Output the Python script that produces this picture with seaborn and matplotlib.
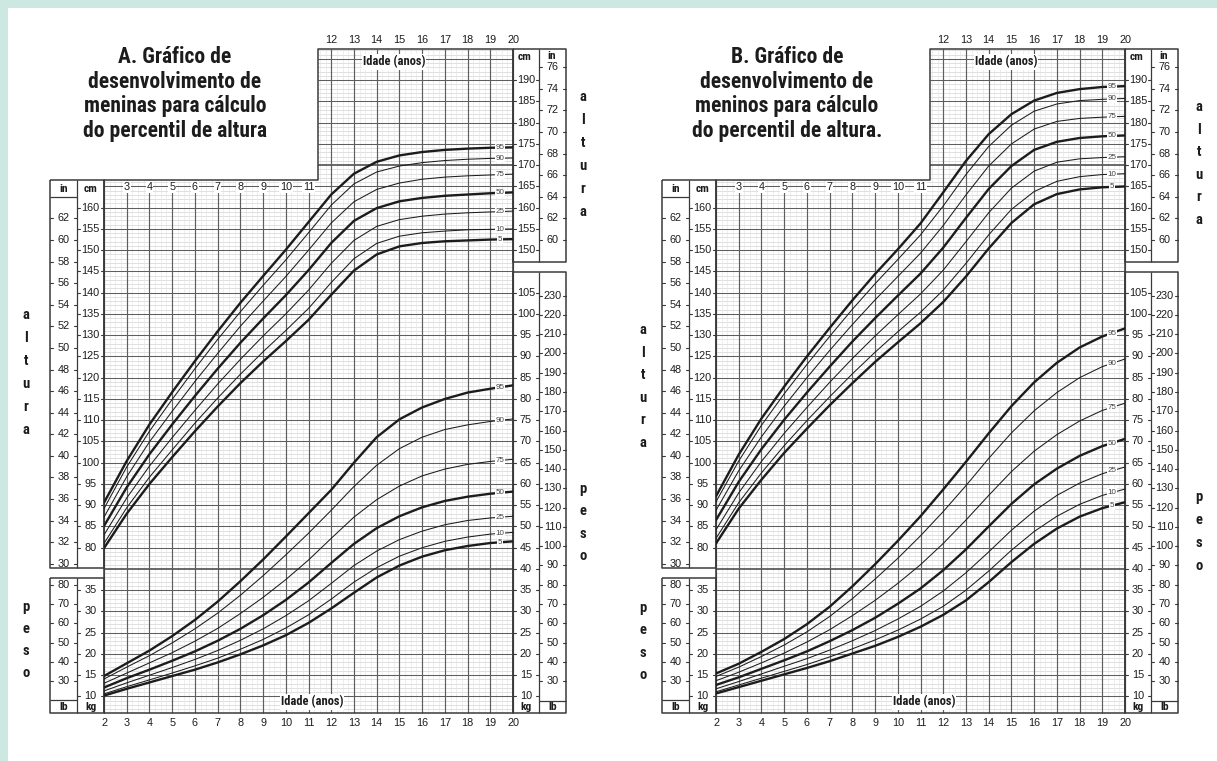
import numpy as np
import pandas as pd
import matplotlib
matplotlib.use("Agg")
import matplotlib.pyplot as plt
import seaborn as sns
from matplotlib import font_manager
from matplotlib.font_manager import FontProperties
from matplotlib.patches import Rectangle

# ------------------------------------------------------------------ data
ages = [2, 3, 4, 5, 6, 7, 8, 9, 10, 11, 12, 13, 14, 15, 16, 17, 18, 19, 20]
percentiles = [5, 10, 25, 50, 75, 90, 95]
thick_percentiles = [5, 50, 95]

# girls, stature (cm)
girls_stature_p5 = [79.9, 88.0, 95.0, 101.3, 107.4, 113.2, 118.7, 123.8, 128.6, 133.6, 139.5, 145.2, 149.0, 150.9, 151.7, 152.1, 152.3, 152.5, 152.6]
girls_stature_p10 = [81.0, 89.4, 96.6, 103.0, 109.3, 115.2, 120.8, 126.1, 131.1, 136.3, 142.4, 148.0, 151.6, 153.3, 154.1, 154.5, 154.8, 154.9, 155.0]
girls_stature_p25 = [83.0, 91.7, 99.2, 105.9, 112.3, 118.5, 124.3, 129.8, 135.0, 140.6, 146.9, 152.3, 155.6, 157.2, 158.0, 158.5, 158.8, 159.0, 159.2]
girls_stature_p50 = [85.1, 94.2, 102.0, 109.0, 115.7, 122.1, 128.2, 133.9, 139.4, 145.3, 151.7, 156.9, 159.9, 161.5, 162.3, 162.8, 163.1, 163.4, 163.6]
girls_stature_p75 = [87.2, 96.7, 104.9, 112.1, 119.1, 125.7, 132.1, 138.0, 143.8, 150.0, 156.4, 161.4, 164.3, 165.8, 166.7, 167.2, 167.5, 167.7, 167.9]
girls_stature_p90 = [89.2, 99.0, 107.4, 114.9, 122.1, 129.0, 135.5, 141.7, 147.7, 154.1, 160.6, 165.6, 168.4, 169.8, 170.6, 171.1, 171.4, 171.6, 171.7]
girls_stature_p95 = [90.6, 100.4, 109.0, 116.6, 123.9, 130.9, 137.6, 143.9, 150.1, 156.6, 163.1, 168.0, 170.8, 172.3, 173.1, 173.6, 173.9, 174.1, 174.2]

# girls, weight (kg)
girls_weight_p5 = [10.2, 11.8, 13.3, 14.8, 16.3, 18.0, 19.9, 22.0, 24.4, 27.3, 30.7, 34.4, 38.0, 40.8, 42.9, 44.4, 45.4, 46.1, 46.5]
girls_weight_p10 = [10.6, 12.3, 13.9, 15.5, 17.2, 19.0, 21.1, 23.4, 26.1, 29.2, 32.9, 36.9, 40.3, 43.0, 45.0, 46.5, 47.5, 48.2, 48.6]
girls_weight_p25 = [11.3, 13.2, 15.0, 16.8, 18.7, 20.8, 23.2, 25.9, 29.0, 32.5, 36.6, 40.8, 44.2, 46.9, 48.9, 50.4, 51.4, 52.0, 52.4]
girls_weight_p50 = [12.1, 14.3, 16.3, 18.4, 20.6, 23.1, 25.9, 29.1, 32.7, 36.8, 41.4, 45.9, 49.6, 52.4, 54.5, 56.0, 57.0, 57.7, 58.2]
girls_weight_p75 = [13.1, 15.5, 17.9, 20.3, 23.0, 26.0, 29.5, 33.3, 37.5, 42.1, 47.2, 52.2, 56.3, 59.5, 61.9, 63.5, 64.6, 65.3, 65.8]
girls_weight_p90 = [14.1, 16.9, 19.6, 22.6, 25.9, 29.6, 33.8, 38.4, 43.3, 48.4, 53.8, 59.4, 64.4, 68.3, 71.0, 72.8, 73.9, 74.7, 75.3]
girls_weight_p95 = [14.8, 17.8, 20.8, 24.2, 28.0, 32.3, 37.1, 42.2, 47.6, 53.1, 58.6, 65.0, 71.0, 75.2, 78.0, 80.0, 81.5, 82.4, 83.2]

# boys, stature (cm)
boys_stature_p5 = [81.0, 89.2, 96.0, 102.3, 108.0, 113.5, 118.7, 123.7, 128.3, 132.8, 137.8, 143.8, 150.4, 156.4, 160.8, 163.2, 164.3, 164.8, 165.0]
boys_stature_p10 = [82.2, 90.6, 97.6, 104.0, 109.9, 115.5, 120.9, 126.0, 130.8, 135.4, 140.6, 146.9, 153.6, 159.6, 163.8, 166.2, 167.3, 167.8, 168.0]
boys_stature_p25 = [84.2, 92.9, 100.3, 106.9, 113.0, 118.9, 124.5, 129.8, 134.8, 139.7, 145.3, 152.0, 158.8, 164.6, 168.6, 170.7, 171.5, 171.8, 172.0]
boys_stature_p50 = [86.5, 95.5, 103.2, 110.1, 116.5, 122.6, 128.5, 134.0, 139.3, 144.5, 150.6, 157.6, 164.4, 169.8, 173.6, 175.5, 176.4, 176.8, 177.0]
boys_stature_p75 = [88.8, 98.1, 106.1, 113.3, 120.0, 126.4, 132.5, 138.3, 143.8, 149.3, 155.8, 163.0, 169.8, 175.0, 178.5, 180.3, 181.0, 181.3, 181.5]
boys_stature_p90 = [90.8, 100.4, 108.8, 116.2, 123.1, 129.7, 136.1, 142.1, 147.8, 153.6, 160.4, 167.8, 174.4, 179.4, 182.7, 184.4, 185.2, 185.5, 185.7]
boys_stature_p95 = [92.1, 101.9, 110.4, 117.9, 125.0, 131.7, 138.2, 144.4, 150.2, 156.3, 163.6, 171.0, 177.3, 182.0, 185.2, 187.0, 187.9, 188.4, 188.6]

# boys, weight (kg)
boys_weight_p5 = [10.7, 12.2, 13.7, 15.2, 16.7, 18.3, 20.1, 21.9, 24.0, 26.4, 29.2, 32.6, 36.9, 41.6, 45.9, 49.5, 52.3, 54.3, 55.7]
boys_weight_p10 = [11.1, 12.7, 14.3, 15.9, 17.5, 19.3, 21.2, 23.3, 25.6, 28.2, 31.2, 35.0, 39.5, 44.4, 48.8, 52.4, 55.2, 57.3, 58.8]
boys_weight_p25 = [11.8, 13.5, 15.3, 17.1, 18.9, 20.9, 23.1, 25.5, 28.2, 31.2, 34.8, 39.1, 44.0, 49.1, 53.6, 57.3, 60.2, 62.4, 64.0]
boys_weight_p50 = [12.7, 14.5, 16.5, 18.5, 20.6, 23.0, 25.6, 28.5, 31.8, 35.4, 39.7, 44.6, 50.0, 55.3, 59.9, 63.6, 66.6, 68.9, 70.6]
boys_weight_p75 = [13.7, 15.7, 17.9, 20.2, 22.8, 25.7, 29.0, 32.6, 36.6, 41.0, 46.0, 51.5, 57.3, 62.9, 67.7, 71.6, 74.8, 77.3, 79.0]
boys_weight_p90 = [14.7, 16.9, 19.4, 22.1, 25.2, 28.8, 33.0, 37.6, 42.5, 47.8, 53.5, 59.6, 66.0, 72.0, 77.2, 81.5, 85.0, 87.6, 89.4]
boys_weight_p95 = [15.4, 17.7, 20.5, 23.5, 27.0, 31.1, 35.9, 41.1, 46.6, 52.4, 58.7, 65.2, 71.9, 78.3, 83.9, 88.5, 92.1, 94.7, 96.6]

girls_title = ["A. Gráfico de", "desenvolvimento de", "meninas para cálculo", "do percentil de altura"]
boys_title = ["B. Gráfico de", "desenvolvimento de", "meninos para cálculo", "do percentil de altura."]
age_axis_label = "Idade (anos)"
stature_word = "altura"
weight_word = "peso"

left_in_ticks = list(range(30, 63, 2))
left_cm_ticks = list(range(80, 161, 5))
right_cm_ticks = list(range(150, 191, 5))
right_in_ticks = list(range(60, 77, 2))
left_kg_ticks = list(range(10, 36, 5))
left_lb_ticks = list(range(30, 81, 10))
right_kg_ticks = list(range(10, 106, 5))
right_lb_ticks = list(range(30, 231, 10))


def series_frame(prefix):
    rows = []
    for p in percentiles:
        vals = globals()[f"{prefix}_p{p}"]
        for a, v in zip(ages, vals):
            rows.append({"idade": a, "valor": v, "percentil": p})
    return pd.DataFrame(rows)


# ------------------------------------------------------------------ style
sns.set_style("white")


def first_font(*names):
    for n in names:
        try:
            font_manager.findfont(FontProperties(family=n), fallback_to_default=False)
            return n
        except Exception:
            continue
    return "DejaVu Sans"


NARROW = first_font("Liberation Sans Narrow", "Roboto Condensed", "DejaVu Sans")
PLAIN = first_font("Liberation Sans", "Arimo", "DejaVu Sans")
plt.rcParams["font.family"] = [NARROW, "DejaVu Sans"]
NUM = [PLAIN, "DejaVu Sans"]

INK = "#1c1c1c"
FRAME = "#3a3a3a"
MAJOR = "#5e5e5e"
MINOR = "#cfcfcf"
QUARTER = "#e4e4e4"
TICK_FS = 7.8
AGE_FS = 7.8
UNIT_FS = 8.2

# ------------------------------------------------------------------ geometry (pixels)
W, H = 1217, 761
PX_YEAR = 409 / 18.0      # horizontal pixels per year
PX_UNIT = 4.25            # vertical pixels per cm (and per kg)
X_AGE2 = 104.0            # left grid edge of the first panel
Y_TOP, Y_BOT = 49.3, 713.0
KG_SHIFT = 35.0           # kg scale sits 35 units below the cm scale


def age_of(px):
    return 2 + (px - X_AGE2) / PX_YEAR


def cm_of(py):
    return 160 - (py - 207.7) / PX_UNIT


CM_LO, CM_HI = cm_of(Y_BOT), cm_of(Y_TOP)
STEP_AGE = age_of(318)
STEP_CM = cm_of(180)

fig = plt.figure(figsize=(W / 100, H / 100), dpi=100, facecolor="#cde7e1")
fig.add_artist(Rectangle((8 / W, 0), 1 - 8 / W, (H - 8) / H, transform=fig.transFigure,
                         facecolor="white", edgecolor="none", zorder=-5))


def draw_panel(dx, stature_prefix, weight_prefix, title, letters):
    ax = fig.add_axes([(X_AGE2 + dx) / W, (H - Y_BOT) / H,
                       409 / W, (Y_BOT - Y_TOP) / H])
    axw = ax.twinx()
    for a in (ax, axw):
        a.axis("off")

    def line(xs, ys, color=FRAME, lw=0.9, z=2, target=ax):
        target.plot(xs, ys, color=color, lw=lw, zorder=z, clip_on=False,
                    solid_capstyle="butt")

    def txt(px, py, s, size=TICK_FS, weight="normal", ha="center", va="center",
            target=None, y=None, bg=False, color=INK, z=5, family=None):
        t = target or ax
        yy = cm_of(py) if y is None else y
        kw = {}
        if bg:
            kw["bbox"] = dict(facecolor="white", edgecolor="none", pad=0.8)
        if family is not None:
            kw["family"] = family
        t.text(age_of(px), yy, s, fontsize=size, fontweight=weight, ha=ha, va=va,
               color=color, zorder=z, clip_on=False, **kw)

    # --- grid: 1-unit horizontal rules, 5-unit rules darker
    for v in range(42, 198):
        x0 = 2 if v <= STEP_CM else STEP_AGE
        if v % 5 == 0:
            heavy = v in (75, 170)
            line([x0, 20], [v, v], color=MAJOR if not heavy else "#404040",
                 lw=0.75 if not heavy else 1.1, z=1.4)
        else:
            line([x0, 20], [v, v], color=MINOR, lw=0.45, z=1.0)
    # quarter-year and year verticals
    for q in np.arange(2, 20.001, 0.25):
        top = STEP_CM if q < STEP_AGE - 1e-6 else CM_HI
        if abs(q - round(q)) < 1e-6:
            line([q, q], [CM_LO, top], color=MAJOR, lw=0.85, z=1.5)
        else:
            line([q, q], [CM_LO, top], color=QUARTER, lw=0.45, z=1.1)
    # stepped outline of the grid
    line([2, 2, STEP_AGE, STEP_AGE, 20, 20, 2],
         [CM_LO, STEP_CM, STEP_CM, CM_HI, CM_HI, CM_LO, CM_LO], lw=1.1, z=2)

    # --- side boxes
    def box(px0, py0, px1, py1):
        line([age_of(px0), age_of(px1), age_of(px1), age_of(px0), age_of(px0)],
             [cm_of(py0), cm_of(py0), cm_of(py1), cm_of(py1), cm_of(py0)], lw=1.1)

    box(50, 180, 104, 568)
    line([age_of(77)] * 2, [cm_of(180), cm_of(568)])
    line([age_of(50), age_of(77)], [cm_of(197), cm_of(197)])
    box(50, 577.7, 104, 713)
    line([age_of(77)] * 2, [cm_of(577.7), cm_of(713)])
    line([age_of(50), age_of(77)], [cm_of(700), cm_of(700)])
    box(513, 49.3, 566, 262)
    line([age_of(539)] * 2, [cm_of(49.3), cm_of(262)])
    box(513, 271.7, 566, 713)
    line([age_of(539)] * 2, [cm_of(271.7), cm_of(713)])
    line([age_of(539), age_of(566)], [cm_of(701), cm_of(701)])

    # --- scale columns
    def column(values, to_units, px0, px1, target):
        tick = 3.0 / PX_YEAR
        for v in values:
            yv = to_units(v)
            target.plot([age_of(px0), age_of(px0) + tick], [yv, yv], color=FRAME, lw=0.8,
                        clip_on=False, zorder=3)
            target.plot([age_of(px1) - tick, age_of(px1)], [yv, yv], color=FRAME, lw=0.8,
                        clip_on=False, zorder=3)
            target.text(age_of((px0 + px1) / 2), yv, str(v), fontsize=TICK_FS, ha="center",
                        va="center", color=INK, clip_on=False, zorder=5, family=NUM)

    column(left_in_ticks, lambda v: v * 2.54, 50, 77, ax)
    column(left_cm_ticks, lambda v: v, 77, 104, ax)
    column(right_cm_ticks, lambda v: v, 513, 539, ax)
    column(right_in_ticks, lambda v: v * 2.54, 539, 566, ax)
    column(left_kg_ticks, lambda v: v, 77, 104, axw)
    column(left_lb_ticks, lambda v: v / 2.20462, 50, 77, axw)
    column(right_kg_ticks, lambda v: v, 513, 539, axw)
    column(right_lb_ticks, lambda v: v / 2.20462, 539, 566, axw)

    # unit headers
    txt(63.5, 188.5, "in", size=UNIT_FS, weight="bold")
    txt(90, 188.5, "cm", size=UNIT_FS, weight="bold", bg=True)
    txt(525, 57, "cm", size=UNIT_FS, weight="bold")
    txt(552, 56, "in", size=UNIT_FS, weight="bold")
    txt(63.5, 707, "lb", size=UNIT_FS, weight="bold")
    txt(90.5, 707, "kg", size=UNIT_FS, weight="bold")
    txt(526, 707, "kg", size=UNIT_FS, weight="bold")
    txt(552.5, 707, "lb", size=UNIT_FS, weight="bold")

    # age labels
    for a in range(3, 12):
        ax.text(a, 164.8, str(a), fontsize=AGE_FS, ha="center", va="center", color=INK,
                zorder=5, family=NUM,
                bbox=dict(facecolor="white", edgecolor="none", pad=0.6))
    for a in range(12, 21):
        ax.text(a, cm_of(40), str(a), fontsize=AGE_FS, ha="center", va="center",
                color=INK, clip_on=False, family=NUM)
    for a in range(2, 21):
        ax.text(a, cm_of(723.5), str(a), fontsize=AGE_FS, ha="center", va="center",
                color=INK, clip_on=False, family=NUM)
    txt(394, 62, age_axis_label, size=9, weight="bold", bg=True)
    txt(312, 702, age_axis_label, size=9, weight="bold", bg=True)

    # --- percentile curves
    st = series_frame(stature_prefix)
    wt = series_frame(weight_prefix)
    for p in percentiles:
        lw = 1.7 if p in thick_percentiles else 0.75
        sns.lineplot(data=st[st.percentil == p], x="idade", y="valor", ax=ax,
                     color=INK, lw=lw, estimator=None, sort=True, legend=False, zorder=3)
        sns.lineplot(data=wt[wt.percentil == p], x="idade", y="valor", ax=axw,
                     color=INK, lw=lw, estimator=None, sort=True, legend=False, zorder=3)
    label_age = age_of(500)
    for p in percentiles:
        ys = st[st.percentil == p]
        yw = wt[wt.percentil == p]
        for target, d in ((ax, ys), (axw, yw)):
            yv = np.interp(label_age, d.idade, d.valor)
            target.text(label_age, yv, str(p), fontsize=5.8, ha="center", va="center",
                        color="#444444", zorder=6, family=NUM,
                        bbox=dict(facecolor="white", edgecolor="none", pad=0.5))
    for a in (ax, axw):
        a.set_xlim(2, 20)
    ax.set_ylim(CM_LO, CM_HI)
    axw.set_ylim(CM_LO - KG_SHIFT, CM_HI - KG_SHIFT)

    # --- title
    for i, s in enumerate(title):
        txt(175, 57 + i * 24.7, s, size=15.5, weight="bold")

    # --- side words, one letter per row
    for (px, py0, step, word) in letters:
        for i, ch in enumerate(word):
            txt(px, py0 + i * step, ch, size=10.5, weight="bold")


draw_panel(0, "girls_stature", "girls_weight", girls_title,
           [(26, 315, 23.0, stature_word), (26, 607, 22.0, weight_word),
            (583, 97, 23.0, stature_word), (583, 489, 22.3, weight_word)])
draw_panel(612, "boys_stature", "boys_weight", boys_title,
           [(31, 330, 22.6, stature_word), (31, 608, 22.3, weight_word),
            (587, 107, 22.6, stature_word), (587, 497, 23.0, weight_word)])

fig.savefig("out.png", dpi=100, facecolor=fig.get_facecolor())
